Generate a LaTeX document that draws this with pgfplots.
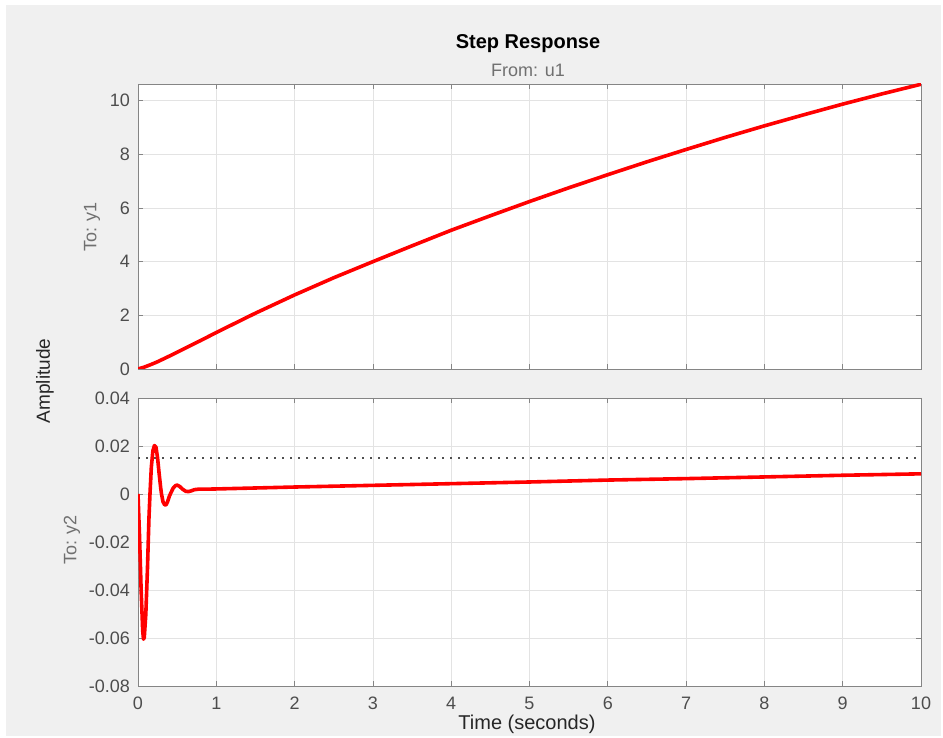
\documentclass[border=0pt]{standalone}
\usepackage{pgfplots}
\pgfplotsset{compat=1.18}
\usepackage{fontspec}
\setmainfont{Liberation Sans}
\definecolor{bg}{HTML}{F0F0F0}
\definecolor{axc}{HTML}{858585}
\definecolor{tlc}{HTML}{4D4D4D}
\definecolor{gridc}{HTML}{E3E3E3}
\definecolor{lblc}{HTML}{707070}
\definecolor{txt}{HTML}{262626}
\definecolor{mred}{HTML}{FF0000}
\definecolor{dotc}{HTML}{505050}

\pgfplotsset{common/.style={
  scale only axis, width=783pt, anchor=south west,
  xmin=0, xmax=10, xtick={0,1,2,3,4,5,6,7,8,9,10},
  axis background/.style={fill=white},
  axis line style={axc, line width=0.8pt},
  tick style={axc, line width=0.8pt},
  major tick length=5pt,
  tick align=inside,
  xtick pos=both, ytick pos=both,
  grid=major,
  major grid style={gridc, line width=0.8pt},
  tick label style={font=\fontsize{18}{20}\selectfont, text=tlc},
  scaled ticks=false,
  yticklabel style={anchor=east, inner sep=0pt, xshift=-8pt},
  xticklabel style={anchor=north, inner sep=0pt, yshift=-10.5pt, text depth=0pt},
}}

\pgfplotstableread{
t y
0 0
0.08 0.07
0.16 0.16
0.25 0.27
0.4 0.48
0.6 0.77
0.8 1.06
1 1.36
1.5 2.08
2 2.76
2.5 3.40
3 4.00
3.5 4.59
4 5.17
4.5 5.71
5 6.24
5.5 6.75
6 7.24
6.5 7.72
7 8.18
7.5 8.63
8 9.06
8.5 9.47
9 9.87
9.5 10.25
10 10.61
}\yone

\pgfplotstableread{
t y
0 0
0.02 -0.018
0.04 -0.040
0.06 -0.057
0.07 -0.0605
0.08 -0.0598
0.10 -0.050
0.12 -0.032
0.14 -0.010
0.153 0.000
0.17 0.011
0.19 0.018
0.21 0.0202
0.23 0.0195
0.25 0.015
0.27 0.0085
0.29 0.0025
0.30 0.000
0.32 -0.0033
0.34 -0.0045
0.36 -0.0045
0.38 -0.003
0.40 -0.001
0.42 0.0005
0.45 0.0025
0.48 0.0035
0.50 0.0037
0.53 0.0032
0.57 0.0020
0.61 0.0011
0.645 0.0010
0.68 0.0013
0.72 0.0018
0.77 0.0020
0.85 0.0020
1 0.0021
2 0.0029
3 0.0036
4 0.0043
5 0.0050
6 0.0058
7 0.0064
8 0.0071
9 0.0078
10 0.0084
}\ytwo

\begin{document}
\begin{tikzpicture}[x=1pt,y=1pt]
\useasboundingbox (0,0) rectangle (943,738);
\fill[white] (0,0) rectangle (943,738);
\fill[bg] (6,2) rectangle (941,733);

\begin{axis}[common, at={(138pt,369pt)}, height=285pt,
  ymin=0, ymax=10.62, ytick={0,2,4,6,8,10}, yticklabels={0,2,4,6,8,10},
  xticklabels={}]
\addplot[mred, line width=3.6pt, line join=round] table[x=t,y=y] {\yone};
\end{axis}

\begin{axis}[common, at={(138pt,52pt)}, height=288pt,
  ymin=-0.08, ymax=0.04,
  ytick={-0.08,-0.06,-0.04,-0.02,0,0.02,0.04},
  yticklabels={-0.08,-0.06,-0.04,-0.02,0,0.02,0.04},
  xticklabels={0,1,2,3,4,5,6,7,8,9,10}]
\addplot[dotc, line width=1.5pt, dash pattern=on 1.5pt off 6.5pt] coordinates {(0,0.015) (10,0.015)};
\addplot[mred, line width=3.6pt, line join=round] table[x=t,y=y] {\ytwo};
\end{axis}

\node[font=\bfseries\fontsize{20}{24}\selectfont, anchor=base] at (528,689.5) {Step Response};
\node[font=\fontsize{18}{22}\selectfont, text=lblc, anchor=base] at (528,661) {From: u1};
\node[font=\fontsize{20}{24}\selectfont, text=txt, anchor=base] at (527,8.5) {Time (seconds)};
\node[rotate=90, font=\fontsize{19}{22}\selectfont, text=txt] at (45,357) {Amplitude};
\node[rotate=90, font=\fontsize{18}{22}\selectfont, text=lblc] at (92,511) {To: y1};
\node[rotate=90, font=\fontsize{18}{22}\selectfont, text=lblc] at (72,198) {To: y2};
\end{tikzpicture}
\end{document}
